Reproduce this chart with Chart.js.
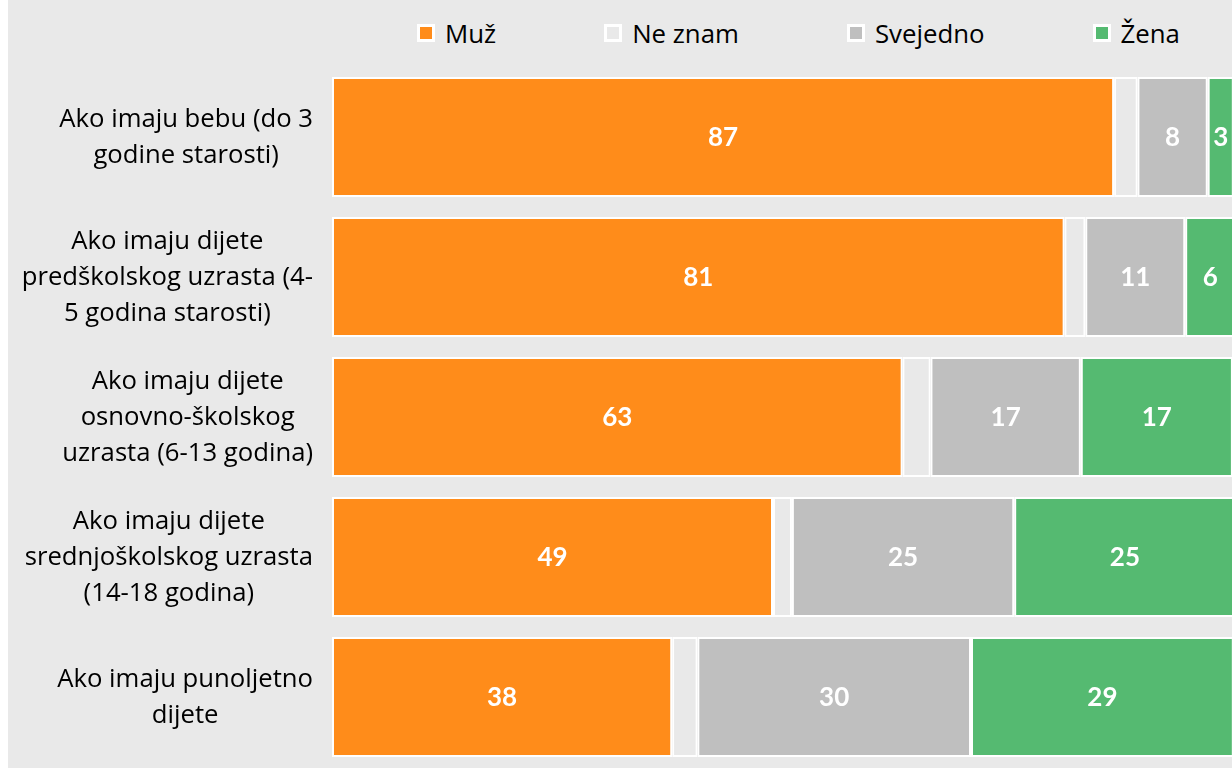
<!DOCTYPE html>
<html><head><meta charset="utf-8">
<script src="https://cdn.jsdelivr.net/npm/chart.js@4"></script>
<style>
html,body{margin:0;padding:0;background:#fff;width:1232px;height:769px;overflow:hidden;}
#wrap{position:absolute;left:8px;top:0;width:1224px;height:768px;background:#e9e9e9;overflow:hidden;}
#legend{position:absolute;left:409px;top:17px;display:flex;font-family:"Open Sans",sans-serif;font-size:25.8px;color:#000;white-space:nowrap;}
.item{display:flex;align-items:center;margin-right:108px;height:32px;}
.box{width:12px;height:12px;border:3px solid #fff;margin-right:10px;}
canvas{position:absolute;left:0;top:0;}
</style></head>
<body>
<div id="wrap"><div id="legend"></div><canvas id="c" width="1224" height="768"></canvas></div>
<script>
const categories = [
  ["Ako imaju bebu (do 3", "godine starosti)"],
  ["Ako imaju dijete", "predškolskog uzrasta (4-", "5 godina starosti)"],
  ["Ako imaju dijete", "osnovno-školskog", "uzrasta (6-13 godina)"],
  ["Ako imaju dijete", "srednjoškolskog uzrasta", "(14-18 godina)"],
  ["Ako imaju punoljetno", "dijete"]
];
const seriesNames = ["Muž", "Ne znam", "Svejedno", "Žena"];
const muz      = [86.9, 81.4, 63.4, 49.0, 37.8];
const neZnam   = [2.6, 2.3, 3.1, 2.1, 2.8];
const svejedno = [7.8, 11.1, 16.7, 24.7, 30.4];
const zena     = [2.9, 5.6, 16.9, 24.6, 29.2];
const seriesColors = ["#FF8C1A", "#E9E9E9", "#BFBFBF", "#55BA71"];
const showValues = [true, false, true, true];

const legendEl = document.getElementById('legend');
seriesNames.forEach((n, i) => {
  const it = document.createElement('div'); it.className = 'item';
  if (i === seriesNames.length - 1) it.style.marginRight = '0';
  const b = document.createElement('div'); b.className = 'box'; b.style.background = seriesColors[i];
  const t = document.createElement('span'); t.textContent = n;
  it.appendChild(b); it.appendChild(t); legendEl.appendChild(it);
});

const valueLabels = {
  id: 'valueLabels',
  afterDatasetsDraw(chart) {
    const ctx = chart.ctx; ctx.save();
    ctx.font = 'bold 26px Lato'; ctx.fillStyle = '#fff';
    ctx.textAlign = 'center'; ctx.textBaseline = 'middle';
    chart.data.datasets.forEach((ds, di) => {
      if (!showValues[di]) return;
      chart.getDatasetMeta(di).data.forEach((el, i) => {
        const p = el.getProps(['x', 'y', 'base'], true);
        ctx.fillText(String(Math.round(ds.data[i])), (p.x + p.base) / 2, p.y + 1);
      });
    });
    ctx.restore();
  }
};
const catLabels = {
  id: 'catLabels',
  afterDraw(chart) {
    const ys = chart.scales.y, ctx = chart.ctx;
    ctx.save(); ctx.font = '25.7px "Open Sans"'; ctx.fillStyle = '#000';
    ctx.textAlign = 'center'; ctx.textBaseline = 'middle';
    const right = chart.chartArea.left - 19;
    chart.data.labels.forEach((lines, i) => {
      const w = Math.max(...lines.map(l => ctx.measureText(l).width));
      const cx = right - w / 2, cy = ys.getPixelForTick(i) + 1;
      lines.forEach((l, j) => ctx.fillText(l, cx, cy + (j - (lines.length - 1) / 2) * 36));
    });
    ctx.restore();
  }
};

const dsData = [muz, neZnam, svejedno, zena];
function draw() {
  new Chart(document.getElementById('c'), {
    type: 'bar',
    data: {
      labels: categories,
      datasets: seriesNames.map((n, i) => ({
        label: n, data: dsData[i], backgroundColor: seriesColors[i],
        borderColor: '#ffffff', borderWidth: 2, borderSkipped: false,
        barPercentage: 0.857, categoryPercentage: 1
      }))
    },
    options: {
      indexAxis: 'y', responsive: false, animation: false,
      layout: { padding: { top: 67, bottom: 1, left: 0, right: 0 } },
      plugins: { legend: { display: false }, tooltip: { enabled: false } },
      scales: {
        x: { stacked: true, min: 0, max: 100, display: false },
        y: { stacked: true, grid: { display: false }, border: { display: false },
             ticks: { display: false }, afterFit: s => { s.width = 324; } }
      }
    },
    plugins: [valueLabels, catLabels]
  });
}
if (document.fonts && document.fonts.load) {
  Promise.all([document.fonts.load('25.7px "Open Sans"'), document.fonts.load('bold 26px Lato')]).then(draw, draw);
} else draw();
</script>
</body></html>
